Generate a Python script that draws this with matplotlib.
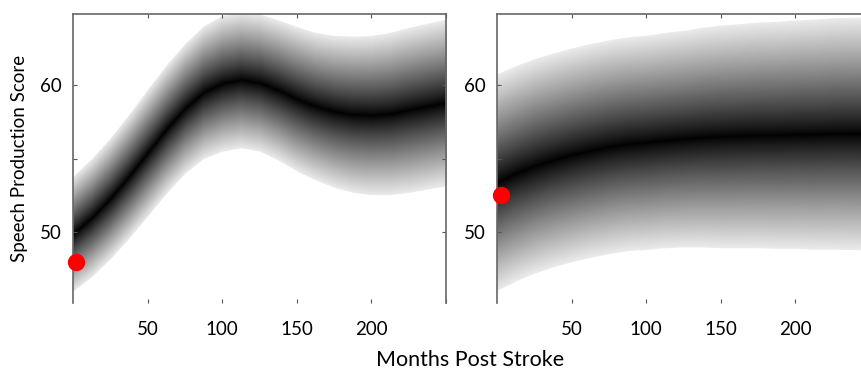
import numpy as np
import matplotlib
matplotlib.use("Agg")
import matplotlib.pyplot as plt

# months post stroke where the curves were read
months = [0, 12.5, 25, 37.5, 50, 62.5, 75, 87.5, 100, 112.5, 125, 137.5,
          150, 162.5, 175, 187.5, 200, 212.5, 225, 237.5, 250]

# left panel: predicted mean and half-width of the shaded band
left_mean = [49.9, 51.0, 52.3, 53.8, 55.4, 57.0, 58.4, 59.5, 60.1, 60.35, 60.15,
             59.65, 59.05, 58.55, 58.2, 58.0, 57.95, 58.05, 58.3, 58.55, 58.8]
left_hw = [3.9, 4.0, 4.1, 4.2, 4.3, 4.35, 4.4, 4.5, 4.6, 4.62, 4.65, 4.75,
           4.9, 5.0, 5.15, 5.3, 5.4, 5.5, 5.6, 5.62, 5.65]

# right panel
right_mean = [53.4, 54.0, 54.5, 54.9, 55.25, 55.55, 55.8, 56.0, 56.1, 56.25,
              56.35, 56.45, 56.5, 56.55, 56.6, 56.6, 56.65, 56.65, 56.7, 56.7, 56.7]
right_hw = [7.35, 7.3, 7.28, 7.25, 7.25, 7.25, 7.25, 7.25, 7.27, 7.3, 7.35,
            7.45, 7.55, 7.6, 7.65, 7.7, 7.75, 7.8, 7.85, 7.88, 7.9]

# observed scores (red dots)
obs_month = [2, 2.7]
obs_score = [48.0, 52.5]

yticks = [50, 55, 60]
yticklabels = ["50", "", "60"]
xticks = [50, 100, 150, 200, 250]
xticklabels = ["50", "100", "150", "200", ""]

plt.rcParams["font.family"] = ["Lato", "DejaVu Sans"]

fig = plt.figure(figsize=(8.61, 3.72), dpi=100)
W, H = 861, 372
ax_l = fig.add_axes([73 / W, 1 - 303 / H, 373 / W, 289 / H])
ax_r = fig.add_axes([497 / W, 1 - 303 / H, 373 / W, 289 / H])

levels = np.linspace(1, 0.005, 120)


def draw_band(ax, mean, hw, dot_x, dot_y):
    m = np.array(mean)
    h = np.array(hw)
    for f in levels:
        g = 0.92 * f ** 0.88
        ax.fill_between(months, m - f * h, m + f * h, color=(g, g, g),
                        linewidth=0, zorder=1)
    ax.plot(dot_x, dot_y, "o", color="#ff0000", markersize=12.5,
            markeredgewidth=0, zorder=3, clip_on=False)
    ax.set_xlim(0, 250)
    ax.set_ylim(45.2, 64.8)
    ax.set_xticks(xticks)
    ax.set_xticklabels(xticklabels, fontsize=13.5)
    ax.set_yticks(yticks)
    ax.set_yticklabels(yticklabels, fontsize=13.5)
    ax.spines["bottom"].set_visible(False)
    for s in ["left", "right", "top"]:
        ax.spines[s].set_color("#666666")
        ax.spines[s].set_linewidth(1.2)
    ax.tick_params(axis="both", direction="in", length=3, color="#555555",
                   top=True, right=True, bottom=True, left=True)
    ax.tick_params(axis="x", pad=13)
    ax.tick_params(axis="y", pad=8)


draw_band(ax_l, left_mean, left_hw, obs_month[0], obs_score[0])
draw_band(ax_r, right_mean, right_hw, obs_month[1], obs_score[1])

ax_l.set_ylabel("Speech Production Score", fontsize=13.5, labelpad=9)
fig.text(470 / W, 1 - 360 / H, "Months Post Stroke", fontsize=15.5,
         ha="center", va="center")

fig.savefig("out.png", dpi=100)
